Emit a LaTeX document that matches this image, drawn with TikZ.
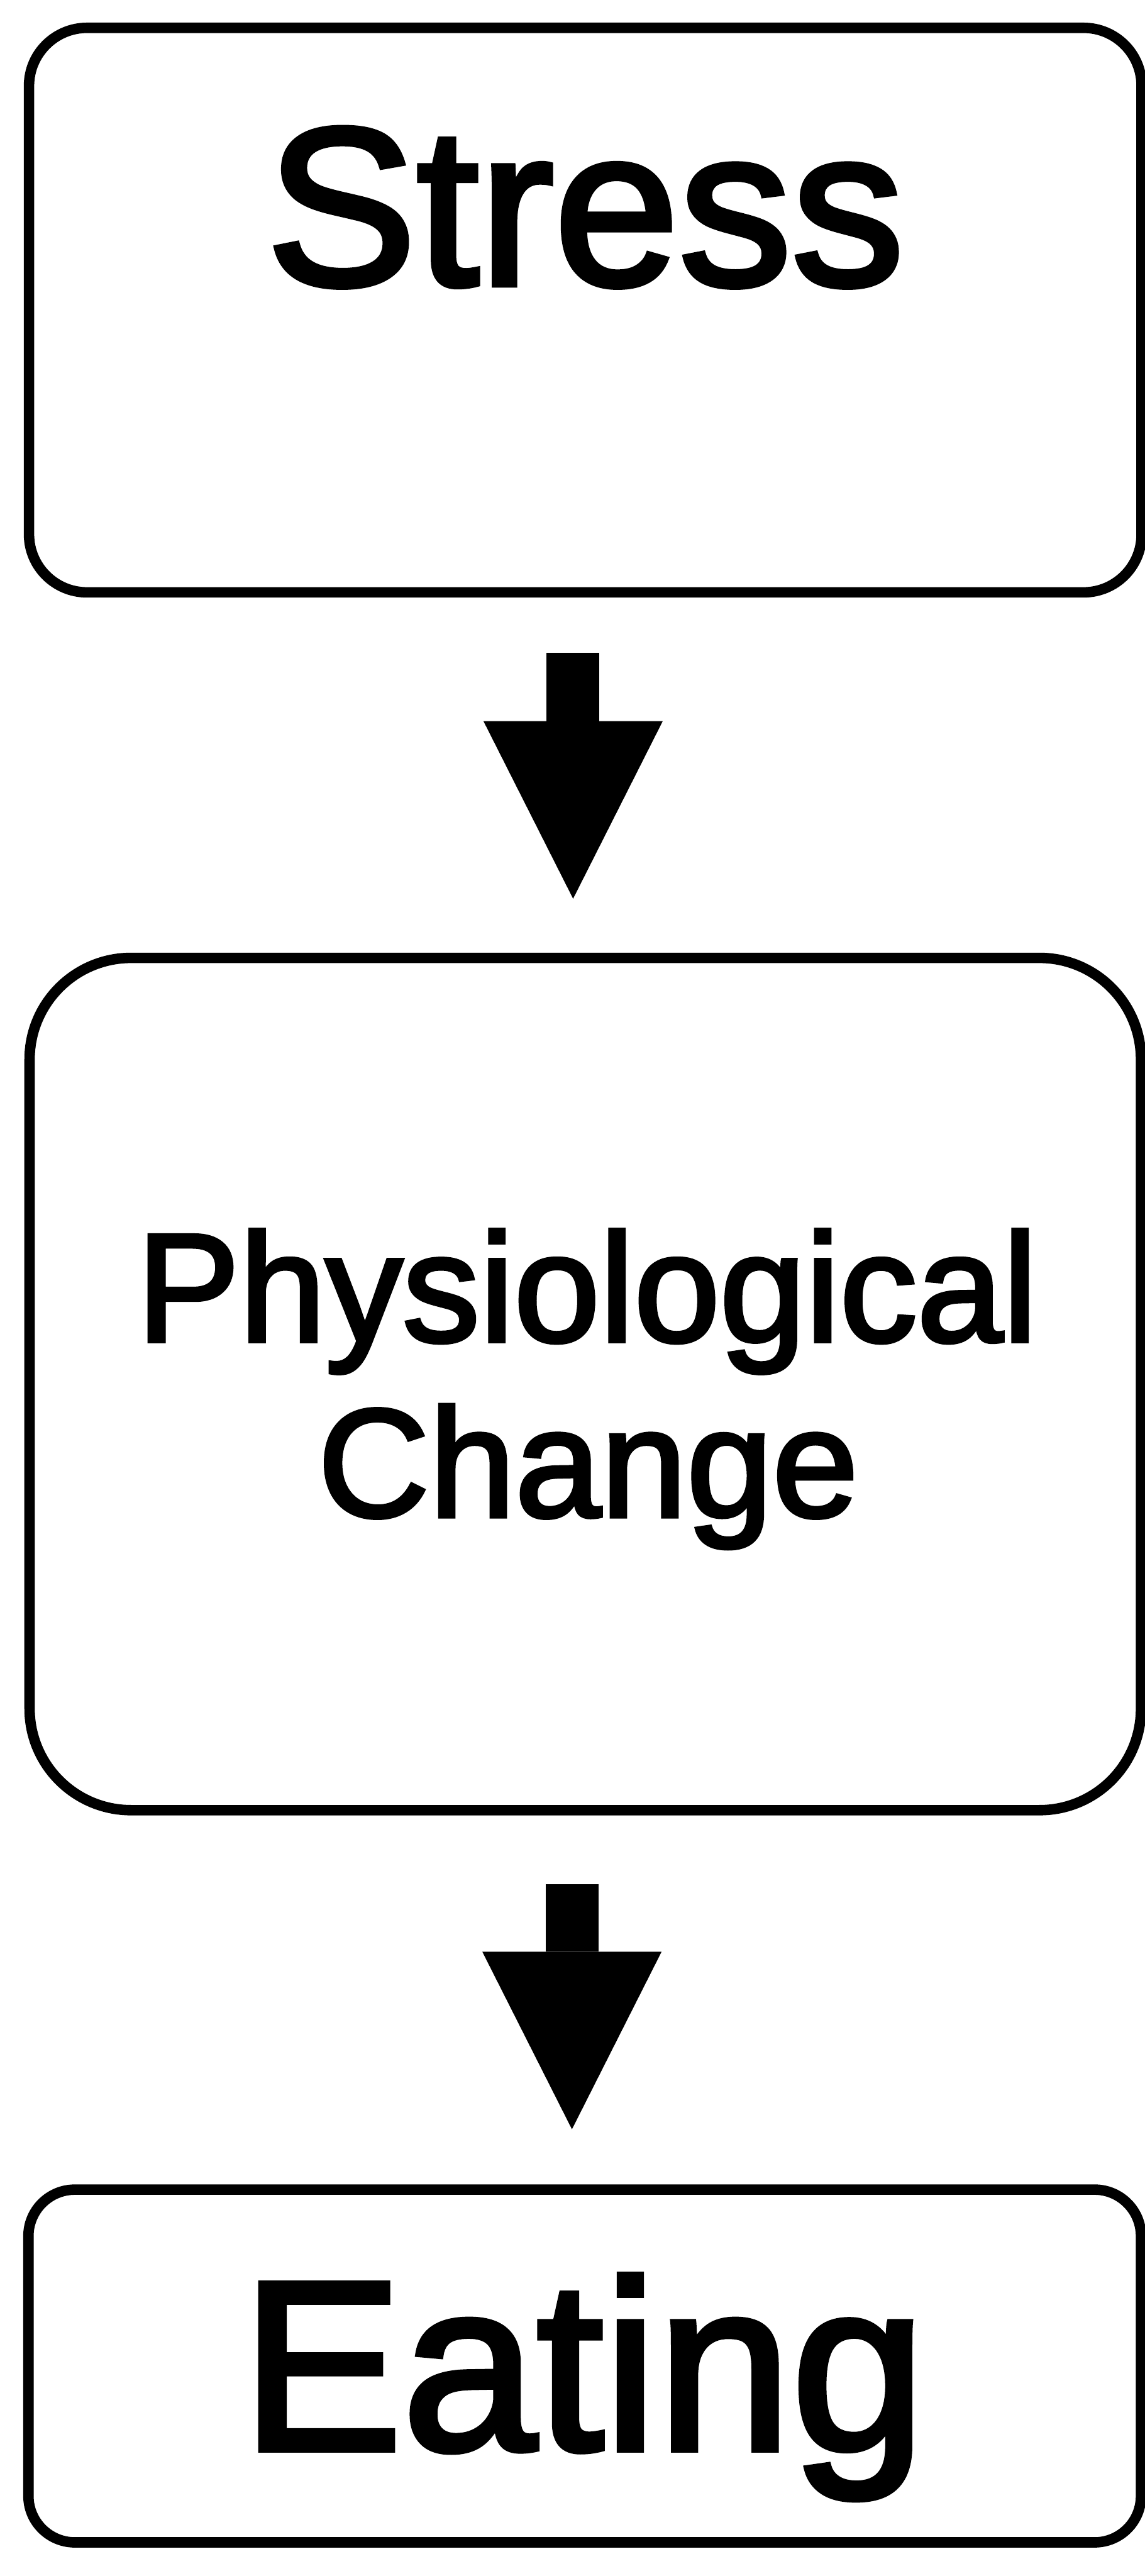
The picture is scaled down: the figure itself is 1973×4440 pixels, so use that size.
\documentclass[tikz,border=0pt]{standalone}
\usepackage{fontspec}
\setmainfont{Liberation Sans}
\newfontfamily\lblfont{Liberation Sans}[FakeBold=2.5]
\usetikzlibrary{arrows.meta,calc}
\begin{document}
\begin{tikzpicture}[x=0.25pt,y=-0.25pt]
\useasboundingbox (0,0) rectangle (1973,4440);
\tikzset{
  box/.style={draw=black, line width=4.5pt, rectangle, inner sep=0pt, outer sep=0pt, fill=white},
  lbl/.style={anchor=base, inner sep=0pt, text=black},
  bigarrow/.style={draw=black, line width=22.75pt,
    -{Triangle[width=77.25pt,length=76.5pt,line width=0pt]}}
}
% boxes
\node[box, rounded corners=25pt, minimum width=479.5pt, minimum height=243.25pt] (stress) at (1009,534.5) {};
\node[box, rounded corners=43.75pt, minimum width=479pt, minimum height=367.25pt] (phys) at (1009,2385.5) {};
\node[box, rounded corners=20pt, minimum width=479.5pt, minimum height=152pt] (eating) at (1008,4078) {};
% labels
\node[lbl, font=\lblfont\fontsize{97pt}{110pt}\selectfont] (stresslbl) at (1009,491) {Stress};
\node[lbl, font=\lblfont\fontsize{66.5pt}{76pt}\selectfont] (physlbl) at (1012,2312) {Physiological};
\node[lbl, font=\lblfont\fontsize{66.5pt}{76pt}\selectfont] (changelbl) at (1014,2614) {Change};
\node[lbl, font=\lblfont\fontsize{104pt}{118pt}\selectfont] (eatinglbl) at (1006,4222) {Eating};
% arrows
\coordinate (a1s) at ($(stress.south)+(-21,104)$);
\coordinate (a1e) at ($(phys.north)+(-21,-102)$);
\coordinate (a2s) at ($(phys.south)+(-23,128)$);
\coordinate (a2e) at ($(eating.north)+(-22,-104)$);
\draw[bigarrow] (a1s) -- (a1e);
\draw[bigarrow] (a2s) -- (a2e);
\end{tikzpicture}
\end{document}
